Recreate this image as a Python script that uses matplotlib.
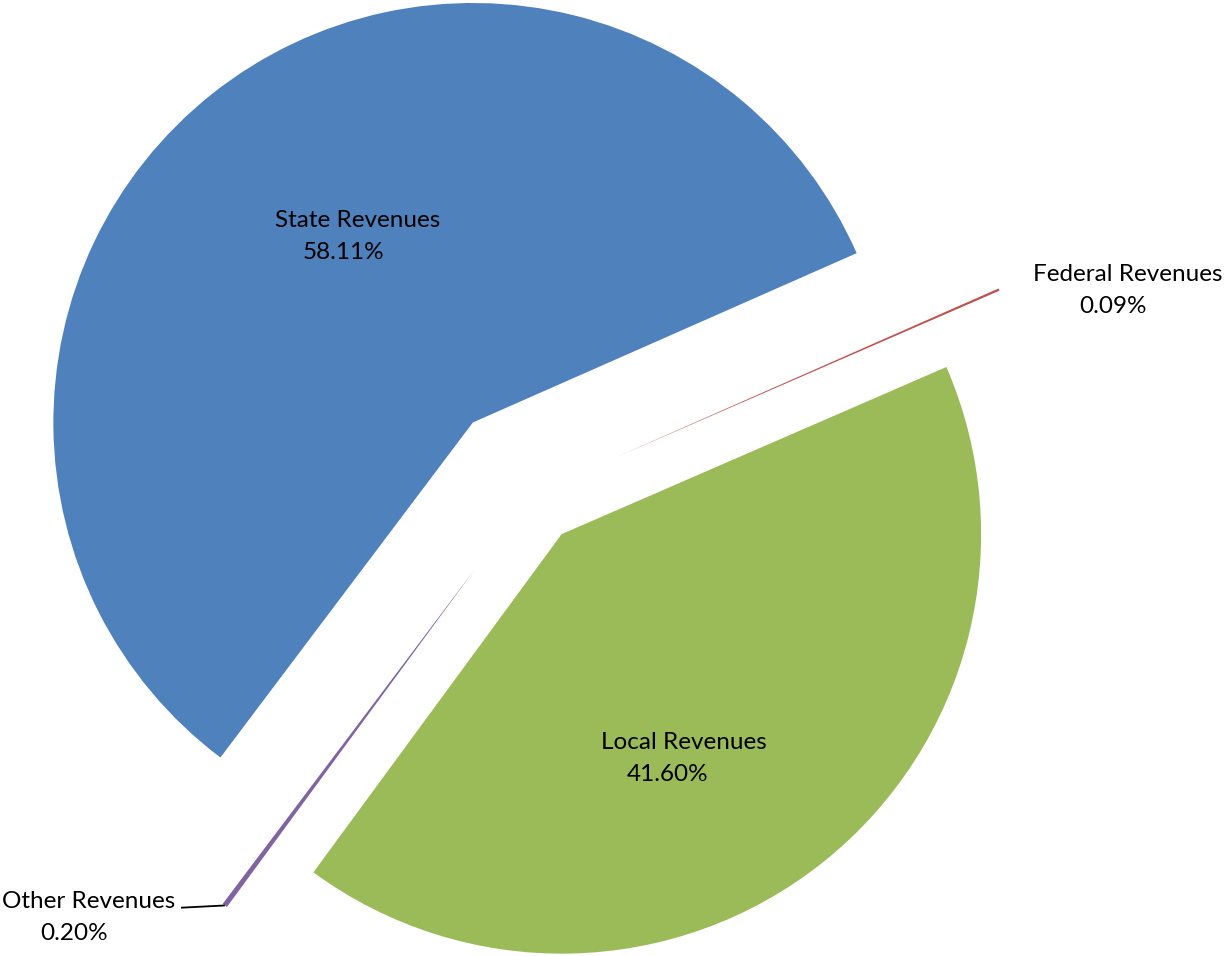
import numpy as np
import matplotlib
matplotlib.use("Agg")
import matplotlib.pyplot as plt

# revenue shares (percent of total)
sources = ["State Revenues", "Federal Revenues", "Local Revenues", "Other Revenues"]
shares = [58.11, 0.09, 41.60, 0.20]
colors = ["#4F81BD", "#C0504D", "#9BBB59", "#8064A2"]
explode_frac = [0.22, 0.22, 0.12, 0.22]

W, H = 1228, 956
R = 419.5
center = (530.2, H - 494.8)

fig = plt.figure(figsize=(W / 100, H / 100), dpi=100)
ax = fig.add_axes([0, 0, 1, 1])

wedges, _ = ax.pie(shares, explode=[f * R for f in explode_frac], colors=colors,
                   startangle=233, counterclock=False, radius=R, center=center,
                   wedgeprops=dict(linewidth=0))

ax.set_xlim(0, W)
ax.set_ylim(0, H)
ax.set_aspect("equal")
ax.axis("off")

# label anchors in pixel space (x center, baseline of first line)
label_pos = [(358, 227), (1127.5, 281), (684, 749), (89, 908)]
value_dx = [-15, -15, -16, -15]

for name, val, (x, y), dx in zip(sources, shares, label_pos, value_dx):
    ax.text(x, H - y, name, ha="center", va="baseline", fontsize=17.5,
            family="Lato", color="black")
    ax.text(x + dx, H - y - 31.6, f"{val:.2f}%", ha="center", va="baseline",
            fontsize=17.5, family="Lato", color="black")

# leader line for the small "Other" slice
w = wedges[3]
tm = np.deg2rad(0.5 * (w.theta1 + w.theta2))
ox = w.center[0] + w.r * np.cos(tm)
oy = w.center[1] + w.r * np.sin(tm)
ax.plot([ox, 181], [oy, H - 907.7], color="black", linewidth=1.3,
        solid_capstyle="butt")

fig.savefig("out.png", dpi=100)
